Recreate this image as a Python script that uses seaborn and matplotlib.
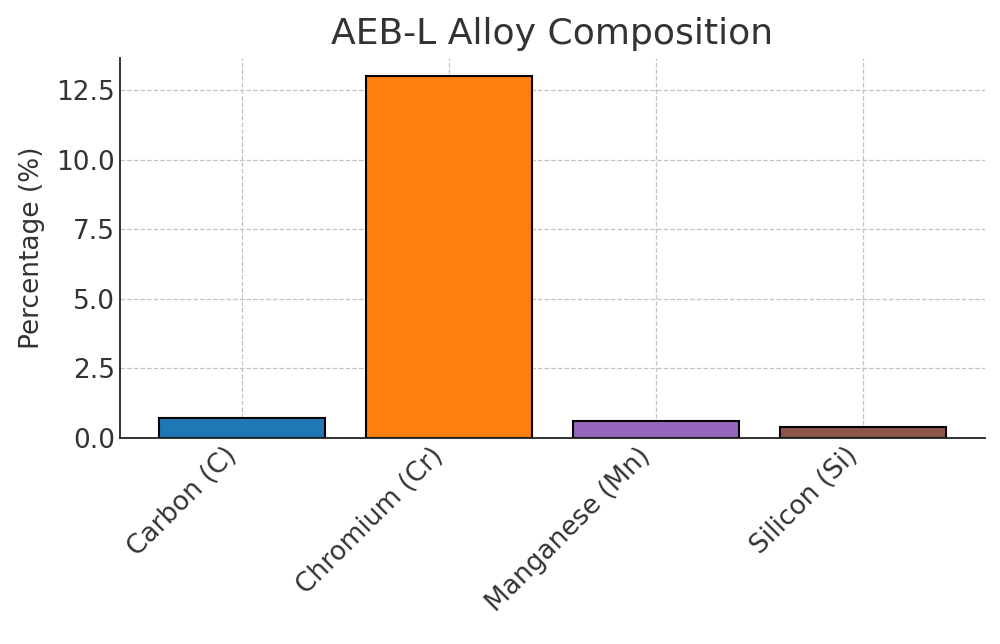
import pandas as pd
import matplotlib.pyplot as plt
import seaborn as sns

# 数据
elements = ['Carbon (C)', 'Chromium (Cr)', 'Manganese (Mn)', 'Silicon (Si)']
percentages = [0.7, 13.0, 0.6, 0.4]
bar_colors = ['#1f77b4', '#ff7f0e', '#9467bd', '#8c564b']

sns.set_style('white')
plt.rcParams['font.family'] = ['DejaVu Sans']
plt.rcParams['text.color'] = '#333333'
plt.rcParams['axes.labelcolor'] = '#333333'
plt.rcParams['xtick.color'] = '#333333'
plt.rcParams['ytick.color'] = '#333333'

df = pd.DataFrame({'element': elements, 'pct': percentages})

fig, ax = plt.subplots(figsize=(10, 6.44), dpi=100)
sns.barplot(data=df, x='element', y='pct', hue='element', palette=bar_colors,
            saturation=1, edgecolor='black', linewidth=1.5, width=0.8,
            legend=False, ax=ax)

ax.set_xlim(-0.59, 3.59)
ax.set_ylim(0, 13.65)
ax.set_title('AEB-L Alloy Composition', fontsize=26, pad=10)
ax.set_xlabel('')
ax.set_ylabel('Percentage (%)', fontsize=19, labelpad=8)
ax.set_yticks([0, 2.5, 5, 7.5, 10, 12.5])
ax.set_yticklabels(['0.0', '2.5', '5.0', '7.5', '10.0', '12.5'])
ax.tick_params(axis='both', direction='in', labelsize=19, length=5, width=1.2)
plt.setp(ax.get_xticklabels(), rotation=45, ha='right')

ax.grid(True, linestyle='--', color='#c4c4c4', linewidth=0.9)
ax.set_axisbelow(True)
for side in ['top', 'right']:
    ax.spines[side].set_visible(False)
for side in ['left', 'bottom']:
    ax.spines[side].set_color('#222222')
    ax.spines[side].set_linewidth(1.3)

plt.subplots_adjust(left=0.12, right=0.985, top=0.91, bottom=0.32)
plt.savefig('out.png', dpi=100)
plt.close()
